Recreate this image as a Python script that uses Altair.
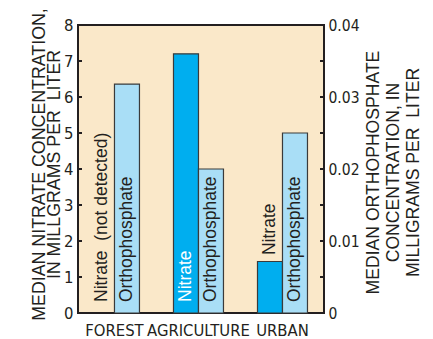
import altair as alt
import pandas as pd

# Median concentrations by land use
areas = ["FOREST", "AGRICULTURE", "URBAN"]
nitrate_mg_l = [None, 7.2, 1.43]          # forest: not detected
orthophosphate_mg_l = [0.0318, 0.020, 0.025]
nitrate_labels = ["Nitrate\u00a0\u00a0(not detected)", "Nitrate", "Nitrate"]
ortho_labels = ["Orthophosphate", "Orthophosphate", "Orthophosphate"]
series_names = ["Nitrate", "Orthophosphate"]

# Axis tick values
nitrate_ticks = [0, 1, 2, 3, 4, 5, 6, 7, 8]
ortho_ticks = [0, 0.005, 0.01, 0.015, 0.02, 0.025, 0.03, 0.035, 0.04]
ortho_tick_labels = [0, 0.01, 0.02, 0.03, 0.04]

INK = "#231f20"
BG = "#fae8c9"
NITRATE_BLUE = "#00aeef"
ORTHO_BLUE = "#a9def6"
NARROW = "DejaVu Sans Condensed, Liberation Sans, sans-serif"
REGULAR = "Liberation Sans, Arial, sans-serif"

nit = pd.DataFrame({"area": areas, "series": "Nitrate",
                    "value": nitrate_mg_l, "label": nitrate_labels})
orth = pd.DataFrame({"area": areas, "series": "Orthophosphate",
                     "value": orthophosphate_mg_l, "label": ortho_labels})
nit_ticks = pd.DataFrame({"t": nitrate_ticks})
orth_ticks = pd.DataFrame({"t": ortho_ticks})

x_enc = alt.X(
    "area:N", sort=areas,
    scale=alt.Scale(domain=areas, paddingInner=0.405, paddingOuter=0.1667, align=0.41),
    axis=alt.Axis(title=None, labelAngle=0, labelFont=NARROW, labelFontSize=16.5,
                  labelColor=INK, labelPadding=9, domain=False, ticks=False),
)
xoff_enc = alt.XOffset("series:N",
                       scale=alt.Scale(domain=series_names, paddingInner=0, paddingOuter=0))

y_nit_scale = alt.Scale(domain=[0, 8], nice=False, zero=True)
y_orth_scale = alt.Scale(domain=[0, 0.04], nice=False, zero=True)

# ---- nitrate (left axis) ----
nit_bars = alt.Chart(nit).mark_bar(
    color=NITRATE_BLUE, stroke="#3a3a3a", strokeWidth=1.2
).transform_filter("datum.value != null").encode(
    x=x_enc, xOffset=xoff_enc,
    y=alt.Y("value:Q", scale=y_nit_scale,
            axis=alt.Axis(orient="left", values=nitrate_ticks,
                          title=["MEDIAN NITRATE CONCENTRATION,",
                                 "IN MILLGRAMS PER\u00a0\u00a0LITER"],
                          titleFont=REGULAR, titleFontSize=17.8, titleFontWeight="normal",
                          titleColor=INK, titleLineHeight=15,
                          titleAngle=270, titleBaseline="bottom", titleAlign="center",
                          titleX=-29.5, titleY=139,
                          labelFont=NARROW, labelFontSize=16.5, labelColor=INK,
                          labelPadding=5, domain=False, ticks=False, grid=False)),
)

nit_text_inside = alt.Chart(nit).transform_filter(
    "datum.value == null || datum.value >= 3"
).transform_calculate(base="0").mark_text(
    angle=270, align="left", baseline="middle", dx=11,
    font=REGULAR, fontSize=17.5
).encode(
    x=x_enc, xOffset=xoff_enc,
    y=alt.Y("base:Q", scale=y_nit_scale, axis=None),
    text="label:N",
    color=alt.condition("datum.value != null", alt.value("white"), alt.value(INK)),
)

nit_text_above = alt.Chart(nit).transform_filter(
    "datum.value != null && datum.value < 3"
).mark_text(
    angle=270, align="left", baseline="middle", dx=6.5,
    font=REGULAR, fontSize=17.5, color=INK
).encode(
    x=x_enc, xOffset=xoff_enc,
    y=alt.Y("value:Q", scale=y_nit_scale, axis=None),
    text="label:N",
)

nit_tick_marks = alt.Chart(nit_ticks).mark_rule(color=INK, strokeWidth=2).encode(
    y=alt.Y("t:Q", scale=y_nit_scale, axis=None),
    x=alt.value(0), x2=alt.value(4),
)

# ---- orthophosphate (right axis) ----
orth_bars = alt.Chart(orth).mark_bar(
    color=ORTHO_BLUE, stroke="#3a3a3a", strokeWidth=1.2
).encode(
    x=x_enc, xOffset=xoff_enc,
    y=alt.Y("value:Q", scale=y_orth_scale,
            axis=alt.Axis(orient="right", values=ortho_tick_labels,
                          labelExpr="datum.value == 0 ? '0' : format(datum.value, '.2f')",
                          title=["MEDIAN ORTHOPHOSPHATE", "CONCENTRATION, IN",
                                 "MILLIGRAMS PER\u00a0\u00a0LITER"],
                          titleAngle=270, titleBaseline="bottom", titleAlign="center",
                          titleX=58.5, titleY=147,
                          titleFont=REGULAR, titleFontSize=17.6, titleFontWeight="normal",
                          titleColor=INK, titleLineHeight=20,
                          labelFont=NARROW, labelFontSize=15.5, labelColor=INK,
                          labelPadding=4, domain=False, ticks=False, grid=False)),
)

orth_text = alt.Chart(orth).transform_calculate(base="0").mark_text(
    angle=270, align="left", baseline="middle", dx=11,
    font=REGULAR, fontSize=17.5, color=INK
).encode(
    x=x_enc, xOffset=xoff_enc,
    y=alt.Y("base:Q", scale=y_orth_scale, axis=None),
    text="label:N",
)

orth_tick_marks = alt.Chart(orth_ticks).mark_rule(color=INK, strokeWidth=2).encode(
    y=alt.Y("t:Q", scale=y_orth_scale, axis=None),
    x=alt.value(242), x2=alt.value(246),
)

# Every layer carries its own fixed-domain y scale; only the two bar layers draw axes
chart = alt.layer(
    nit_bars, orth_bars, nit_text_inside, nit_text_above, orth_text,
    nit_tick_marks, orth_tick_marks,
).resolve_scale(
    y="independent"
).properties(
    width=246, height=288,
    autosize=alt.AutoSizeParams(type="none"),
    padding={"left": 78, "top": 25, "right": 109, "bottom": 26},
    background="white",
).configure_view(
    fill=BG, stroke=INK, strokeWidth=2
)

chart.save("out.html", embed_options={"renderer": "svg", "actions": False})
